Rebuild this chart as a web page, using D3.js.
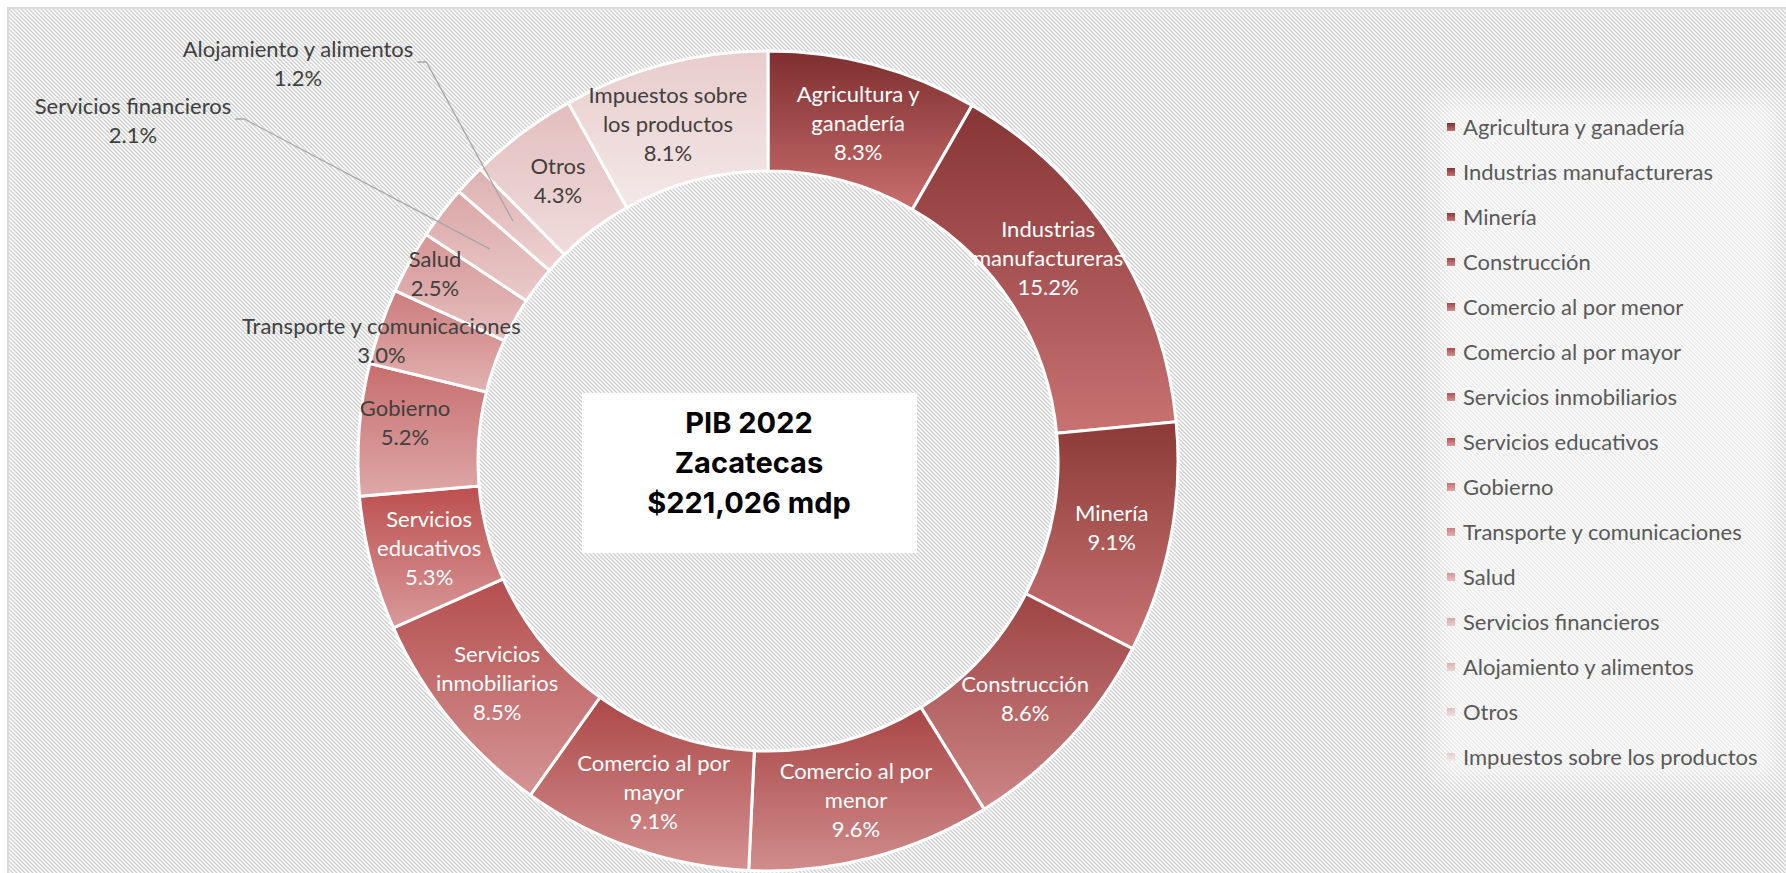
<!DOCTYPE html>
<html>
<head>
<meta charset="utf-8">
<script src="https://cdn.jsdelivr.net/npm/d3@7"></script>
<style>
  html, body { margin: 0; padding: 0; background: #fff; overflow: hidden; }
  svg { display: block; }
  .lbl { font-family: Lato, "Open Sans", sans-serif; font-size: 22px; }
  .leg { font-family: Lato, "Open Sans", sans-serif; font-size: 22px; fill: #595959; }
  .title { font-family: Inter, "Noto Sans", sans-serif; font-weight: 700; font-size: 29px; fill: #000; }
</style>
</head>
<body>
<script>
// datos: PIB Zacatecas 2022 por sector (% del total)
var categories = ["Agricultura y ganadería", "Industrias manufactureras", "Minería", "Construcción",
    "Comercio al por menor", "Comercio al por mayor", "Servicios inmobiliarios", "Servicios educativos",
    "Gobierno", "Transporte y comunicaciones", "Salud", "Servicios financieros",
    "Alojamiento y alimentos", "Otros", "Impuestos sobre los productos"];
var values = [8.3, 15.2, 9.1, 8.6, 9.6, 9.1, 8.5, 5.3, 5.2, 3.0, 2.5, 2.1, 1.2, 4.3, 8.1];
// etiquetas partidas en renglones como en la grafica
var labelLines = [["Agricultura y", "ganadería"], ["Industrias", "manufactureras"], ["Minería"], ["Construcción"],
    ["Comercio al por", "menor"], ["Comercio al por", "mayor"], ["Servicios", "inmobiliarios"], ["Servicios", "educativos"],
    ["Gobierno"], ["Transporte y comunicaciones"], ["Salud"], ["Servicios financieros"],
    ["Alojamiento y alimentos"], ["Otros"], ["Impuestos sobre", "los productos"]];
var titleLines = ["PIB 2022", "Zacatecas", "$221,026 mdp"];

var width = 1786, height = 873;
var cx = 768, cy = 461, rOut = 410, rIn = 290;

// colores (arriba oscuro -> abajo claro)
var topColors = ["#7e2e2e", "#873434", "#8c3a38", "#9e4444", "#a84545", "#ad4848", "#b54e4e", "#bd4f4f",
    "#c76d6d", "#cc7c7c", "#d59595", "#dba6a6", "#ddb0b0", "#e3bebe", "#e8cccc"];
var botColors = ["#c86e6e", "#c87272", "#c87474", "#cc8585", "#d08c8c", "#d39090", "#d49494", "#d89a9a",
    "#dea8a8", "#e2b2b2", "#e6c0c0", "#eacaca", "#eed2d2", "#f0dcdc", "#f4e8e8"];

// desplazamientos de etiquetas (best fit de excel)
var labelShift = {1: [-14, -13], 8: [-14, -12], 9: [-56, -6], 10: [-27, -18], 14: [-12, 2]};
var outside = {11: [133, 106], 12: [298, 49]};

var svg = d3.select("body").append("svg")
    .attr("width", width)
    .attr("height", height);

var defs = svg.append("defs");
var pat = defs.append("pattern")
    .attr("id", "hatch")
    .attr("patternUnits", "userSpaceOnUse")
    .attr("width", 4).attr("height", 4);
pat.append("rect").attr("width", 4).attr("height", 4).attr("fill", "#fff");
pat.append("path")
    .attr("d", "M0,0L4,4M-1,3L1,5M3,-1L5,1")
    .attr("stroke", "#d0d0d0")
    .attr("stroke-width", 1.4);

defs.append("filter").attr("id", "soft")
    .attr("x", "-10%").attr("y", "-10%").attr("width", "120%").attr("height", "120%")
    .append("feGaussianBlur").attr("stdDeviation", 10);

categories.forEach(function (c, i) {
    var g = defs.append("linearGradient")
        .attr("id", "grad" + i)
        .attr("x1", 0).attr("y1", 0).attr("x2", 0).attr("y2", 1);
    g.append("stop").attr("offset", "0%").attr("stop-color", topColors[i]);
    g.append("stop").attr("offset", "100%").attr("stop-color", botColors[i]);
});

// fondo rayado y borde
svg.append("rect")
    .attr("x", 9).attr("y", 9)
    .attr("width", width).attr("height", height)
    .attr("fill", "url(#hatch)");
svg.append("path")
    .attr("d", "M8," + height + "L8,8L" + width + ",8")
    .attr("fill", "none")
    .attr("stroke", "#d9d9d9")
    .attr("stroke-width", 2);

// caja de la leyenda
svg.append("rect")
    .attr("x", 1440).attr("y", 100)
    .attr("width", 336).attr("height", 680)
    .attr("fill", "#fff")
    .attr("opacity", 0.55)
    .attr("filter", "url(#soft)");

var data = categories.map(function (c, i) { return {name: c, value: values[i], i: i}; });
var pie = d3.pie().sort(null).value(function (d) { return d.value; });
var arc = d3.arc().innerRadius(rIn).outerRadius(rOut);
var arcs = pie(data);

var ring = svg.append("g").attr("transform", "translate(" + cx + "," + cy + ")");

ring.selectAll("path.slice")
    .data(arcs)
    .enter().append("path")
    .attr("class", "slice")
    .attr("d", arc)
    .attr("fill", function (d) { return "url(#grad" + d.data.i + ")"; })
    .attr("stroke", "#fff")
    .attr("stroke-width", 3);

// etiquetas
var lineH = 29;
arcs.forEach(function (d) {
    var i = d.data.i;
    var lines = labelLines[i].concat([d3.format(".1f")(d.data.value) + "%"]);
    var c = arc.centroid(d);
    var px, py, color = i < 8 ? "#fff" : "#404040";
    if (outside[i]) {
        px = outside[i][0];
        py = outside[i][1] + lineH * (lines.length - 1) / 2;
    } else {
        var s = labelShift[i] || [0, 0];
        px = cx + c[0] + s[0];
        py = cy + c[1] + s[1];
    }
    var t = svg.append("text")
        .attr("class", "lbl")
        .attr("text-anchor", "middle")
        .attr("fill", color);
    lines.forEach(function (l, k) {
        t.append("tspan")
            .attr("x", px)
            .attr("y", py + (k - (lines.length - 1) / 2) * lineH + 8)
            .text(l);
    });
    if (outside[i]) {
        var w0 = t.select("tspan").node().getComputedTextLength();
        var x0 = px + w0 / 2 + 4;
        var y0 = outside[i][1] + 13;
        svg.append("path")
            .attr("d", "M" + x0 + "," + y0 + "L" + (x0 + 9) + "," + y0 + "L" + (cx + c[0]) + "," + (cy + c[1]))
            .attr("fill", "none")
            .attr("stroke", "#a6a6a6")
            .attr("stroke-width", 1.3);
    }
});

// caja central
svg.append("rect")
    .attr("x", 582).attr("y", 393)
    .attr("width", 335).attr("height", 160)
    .attr("fill", "#fff");
svg.append("text")
    .attr("class", "title")
    .attr("text-anchor", "middle")
    .selectAll("tspan")
    .data(titleLines)
    .enter().append("tspan")
    .attr("x", 749)
    .attr("y", function (d, i) { return 433 + i * 40; })
    .text(function (d) { return d; });

// leyenda
var legend = svg.append("g").attr("transform", "translate(1447,127)");
var item = legend.selectAll("g")
    .data(data)
    .enter().append("g")
    .attr("transform", function (d, i) { return "translate(0," + i * 45 + ")"; });
item.append("rect")
    .attr("x", 0).attr("y", -4)
    .attr("width", 8).attr("height", 8)
    .attr("fill", function (d) { return "url(#grad" + d.i + ")"; });
item.append("text")
    .attr("class", "leg")
    .attr("x", 16)
    .attr("y", 8)
    .text(function (d) { return d.name; });
</script>
</body>
</html>
